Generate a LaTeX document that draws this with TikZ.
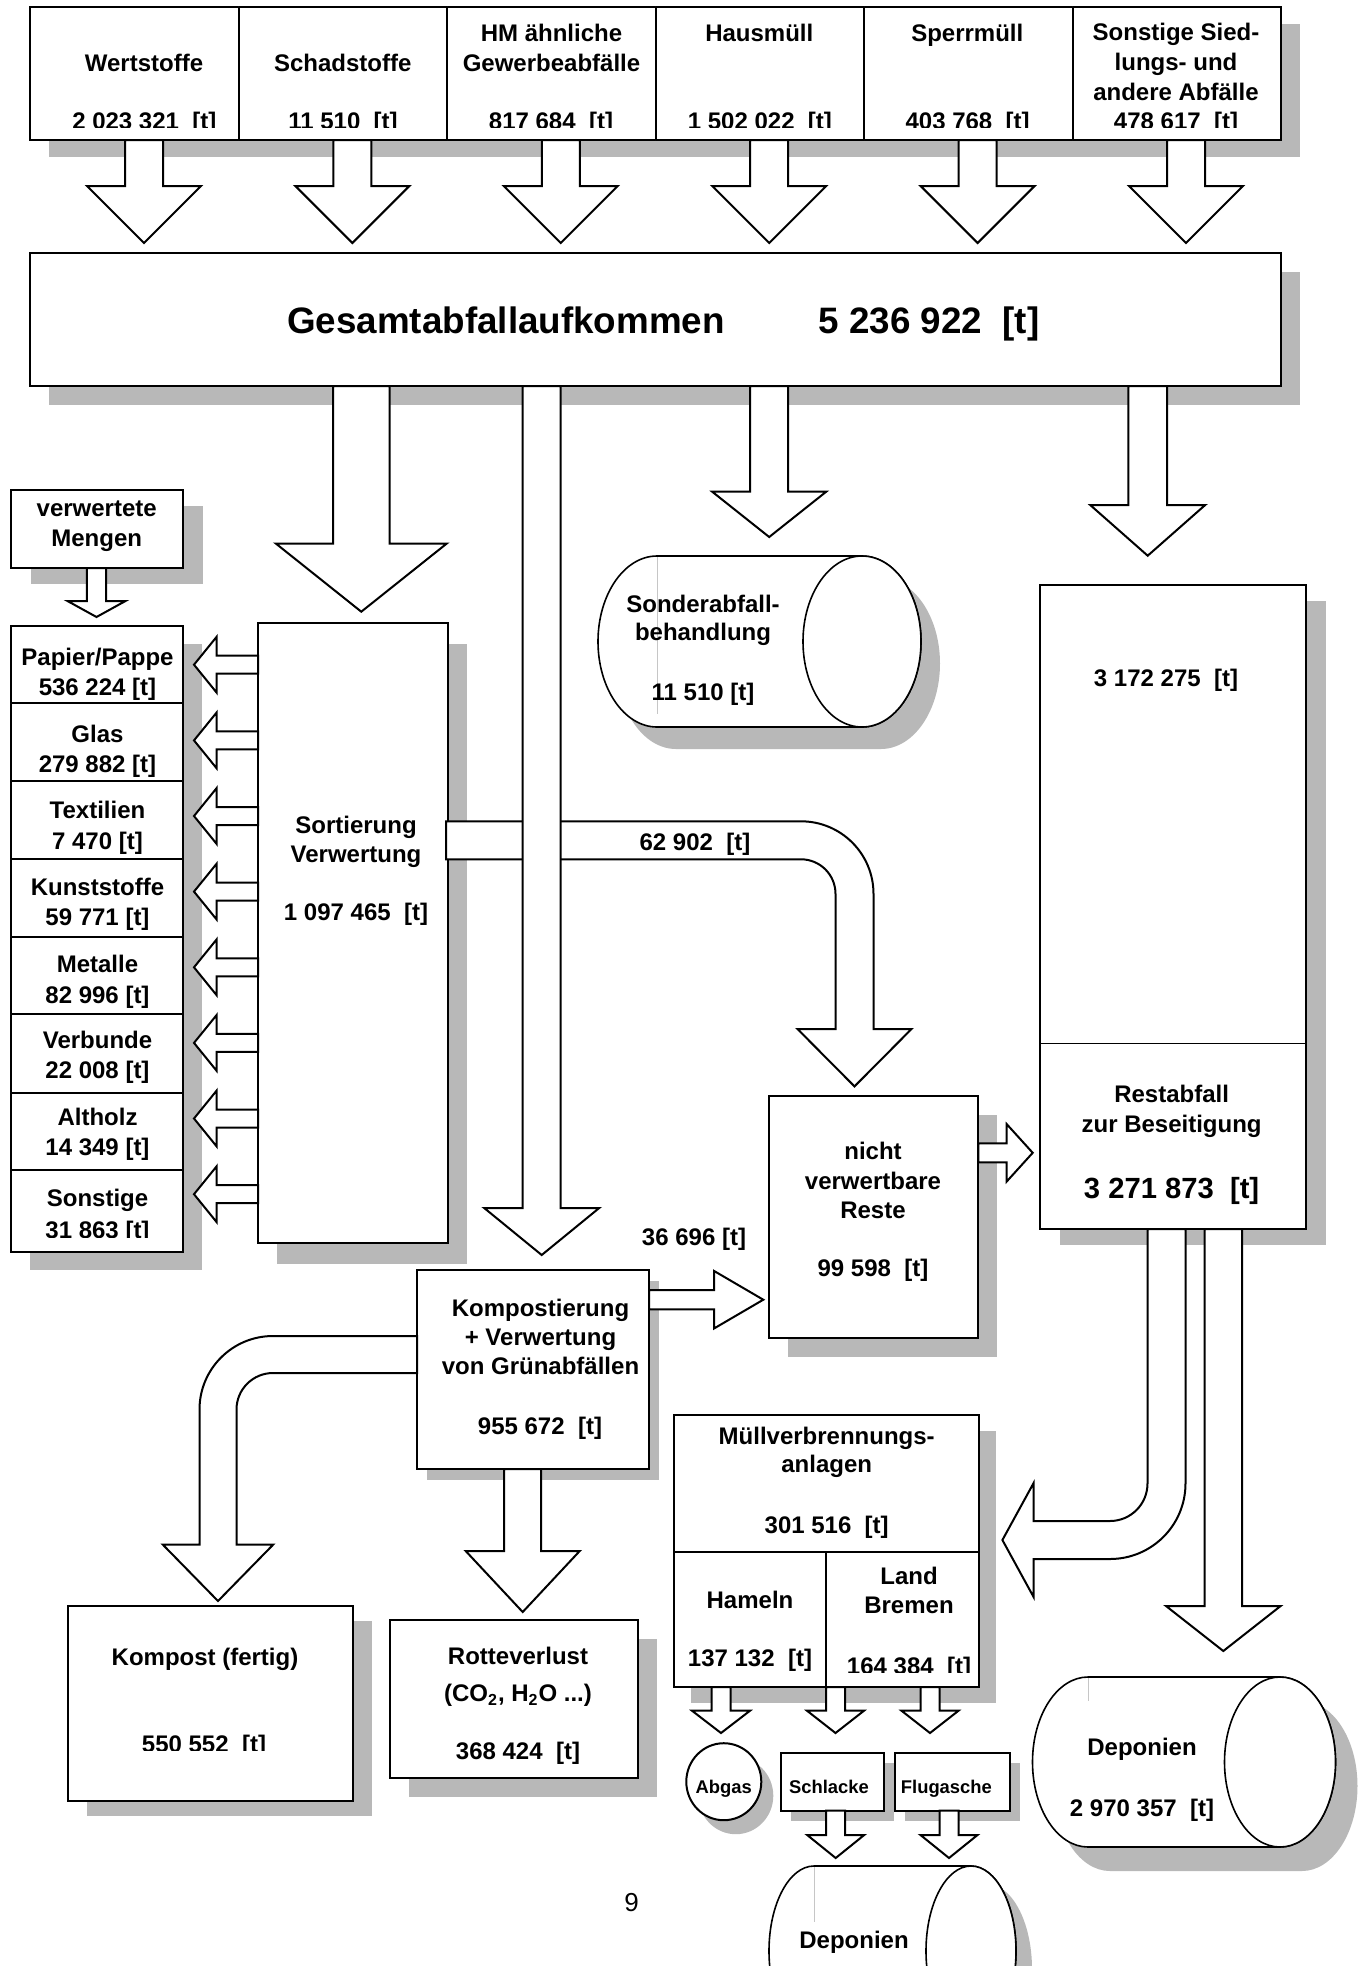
\documentclass[tikz,border=0pt]{standalone}
\usepackage{fontspec}
\setmainfont{Liberation Sans}
\definecolor{shd}{gray}{0.72}
\tikzset{
 blk/.style={draw=black, fill=white, line width=1pt, line join=miter},
 box/.style={draw=black, fill=white, line width=1pt},
 thinln/.style={draw=black, line width=0.6pt},
 cylst/.style={draw=black, fill=white, line width=0.8pt},
 shdw/.style={fill=shd, draw=none},
 artif/.style={draw=gray!45, line width=0.3pt},
 t/.style={anchor=base, inner sep=0pt, outer sep=0pt, font=\bfseries\fontsize{12}{14}\selectfont},
 ts/.style={t, font=\bfseries\fontsize{9.2}{11}\selectfont},
 tm/.style={t, font=\bfseries\fontsize{14.6}{17}\selectfont},
 tl/.style={t, font=\bfseries\fontsize{18.4}{22}\selectfont},
 pg/.style={anchor=base, inner sep=0pt, font=\fontsize{13}{15}\selectfont}
}
% down block arrow: cx, ytop, yheadtop, ytip, shaft halfwidth, head halfwidth
\newcommand\darr[6]{\draw[blk] (#1-#5,#2) -- (#1-#5,#3) -- (#1-#6,#3) -- (#1,#4) -- (#1+#6,#3) -- (#1+#5,#3) -- (#1+#5,#2) -- cycle;}
% horizontal block arrow: cy, xstart, xheadbase, xtip, shaft halfwidth, head halfwidth
\newcommand\harr[6]{\draw[blk] (#2,#1-#5) -- (#3,#1-#5) -- (#3,#1-#6) -- (#4,#1) -- (#3,#1+#6) -- (#3,#1+#5) -- (#2,#1+#5) -- cycle;}
% shadow rectangle: x1,y1,x2,y2,dx,dy
\newcommand\mkshadow[6]{\fill[shdw] (#1+#5,#2+#6) rectangle (#3+#5,#4+#6);}
% cylinder: xl, xr, yc, rx, ry, dx, dy
\newcommand\cyl[7]{%
 \fill[shdw] (#1+#6,#3-#5+#7) -- (#2+#6,#3-#5+#7) arc (-90:90:#4 and #5) -- (#1+#6,#3+#5+#7) arc (90:270:#4 and #5) -- cycle;
 \draw[cylst] (#1,#3-#5) -- (#2,#3-#5) arc (-90:90:#4 and #5) -- (#1,#3+#5) arc (90:270:#4 and #5) -- cycle;
 \draw[cylst] (#2,#3) ellipse (#4 and #5);}

\begin{document}
\begin{tikzpicture}[x=0.5pt,y=0.5pt,yscale=-1]
\useasboundingbox (0,0) rectangle (1359,1966);
\clip (0,0) rectangle (1359,1966);

% ---------- shadows ----------
\mkshadow{30}{6.5}{1281}{140}{19}{17}
\mkshadow{30}{253}{1281}{386}{19}{19}
\mkshadow{10.7}{490}{182.7}{568}{20}{16}
\mkshadow{10.7}{626.3}{182.7}{1252.4}{19}{18}
\mkshadow{258}{623}{448}{1243}{19}{21}
\mkshadow{1040}{585}{1305.7}{1229}{20}{16}
\mkshadow{769}{1096.3}{978.3}{1337.7}{19}{19}
\mkshadow{417}{1270}{649}{1469}{10}{11}
\mkshadow{68}{1606.4}{353.4}{1801}{19}{15}
\mkshadow{390}{1620}{637.5}{1778}{19}{19}
\mkshadow{674.3}{1414.8}{978.8}{1687}{17}{16}
\mkshadow{781}{1752.6}{884}{1810.5}{10}{10}
\mkshadow{895.4}{1752.6}{1010}{1810.5}{10}{10}
\fill[shdw] (735.8,1795.7) ellipse (37.5 and 38.5);

% ---------- boxes ----------
\draw[box] (30,6.5) rectangle (1281,140);
\foreach \xx in {238.5,447,655.5,864,1072.5} \draw[box] (\xx,6.5) -- (\xx,140);
\draw[box] (30,253) rectangle (1281,386);
\draw[box] (10.7,490) rectangle (182.7,568);
\draw[box] (10.7,626.3) rectangle (182.7,1252.4);
\foreach \yy in {703.2,780.6,859,936.5,1014.4,1092.8,1169.7} \draw[box] (10.7,\yy) -- (182.7,\yy);
\draw[box] (258,623) rectangle (448,1243);
\draw[box] (1040,585) rectangle (1305.7,1229);
\draw[thinln] (1040,1043.7) -- (1305.7,1043.7);
\draw[box] (769,1096.3) rectangle (978.3,1337.7);
\draw[box] (417,1270) rectangle (649,1469);
\draw[box] (68,1606.4) rectangle (353.4,1801);
\draw[box] (390,1620) rectangle (637.5,1778);
\draw[box] (674.3,1414.8) rectangle (978.8,1687);
\draw[box] (674.3,1552) -- (978.8,1552);
\draw[box] (826.3,1552) -- (826.3,1687);
\draw[box] (781,1752.6) rectangle (884,1810.5);
\draw[box] (895.4,1752.6) rectangle (1010,1810.5);
\draw[box] (723.8,1781.7) ellipse (37.5 and 38.5);

% ---------- cylinders ----------
\cyl{657}{862}{641.5}{59}{85.5}{19}{22}
\cyl{1088}{1280}{1762}{55.5}{85}{22}{24}
\cyl{814}{971}{1951}{45}{85}{16}{18}
\draw[artif] (657,557) -- (657,713.5);
\draw[artif] (1088,1678) -- (1088,1701);
\draw[artif] (813.8,1867) -- (813.8,1922);

% ---------- arrows ----------
\foreach \cx in {144,352.4,560.8,769.2,977.6,1186} {\darr{\cx}{140}{186}{243}{19}{57}}
\darr{361.3}{386}{543.5}{611.7}{28.25}{85.5}
\darr{769.2}{386}{491.7}{537}{19}{57}
\darr{1147.7}{386}{505}{555.7}{19.3}{57.5}
\darr{96.5}{568}{601}{617}{9.7}{29}
\foreach \cy in {664.7,740.4,816,891.6,967.3,1042.9,1118.5,1194.2} {\harr{\cy}{258}{216.7}{194}{9}{28}}
% 62 902 band
\draw[blk] (446,821.3) -- (801,821.3) arc (-90:0:72.5) -- (873.5,1029) -- (911.5,1029) -- (854.5,1086.4) -- (797.5,1029) -- (835.5,1029) -- (835.5,893.8) arc (0:-90:34.5) -- (446,859.3) -- cycle;
% long vertical arrow
\darr{541.7}{386}{1208}{1255}{19}{57.5}
\harr{1152.8}{978.3}{1006.7}{1032.7}{9.5}{28.7}
\harr{1299.7}{649}{714}{763.3}{9.7}{28.8}
% Kompostierung -> Kompost
\draw[blk] (417,1336) -- (273,1336) arc (-90:-180:73.5) -- (199.5,1544.6) -- (162.8,1544.6) -- (218,1601) -- (273.2,1544.6) -- (236.5,1544.6) -- (236.5,1409.5) arc (180:270:36.5) -- (417,1373) -- cycle;
\darr{522.7}{1469}{1551}{1612}{18.5}{57}
% Restabfall -> MVA
\draw[blk] (1147.5,1229) -- (1147.5,1483.5) arc (0:90:37.5) -- (1033.6,1521) -- (1033.6,1483) -- (1002.4,1540) -- (1033.6,1597) -- (1033.6,1559) -- (1110,1559) arc (90:0:75.5) -- (1185.5,1229) -- cycle;
\darr{1223.3}{1229}{1606}{1651}{18.7}{57.3}
% MVA outputs
\darr{721}{1687}{1710.7}{1733}{9.5}{29}
\darr{835.5}{1687}{1710.7}{1733}{9.5}{28.5}
\darr{930}{1687}{1710.7}{1733}{9.5}{28.5}
\darr{835.7}{1810.5}{1835}{1858}{9.5}{28.5}
\darr{949}{1810.5}{1835}{1858}{9.5}{28.5}

% ---------- texts ----------
\node[t] (w1) at (144,71) {Wertstoffe};
\node[t] (s1) at (342.8,71) {Schadstoffe};
\node[t] (h1) at (551.5,41.7) {HM ähnliche};
\node[t] (h2) at (551.5,71) {Gewerbeabfälle};
\node[t] (hm1) at (759.3,41.7) {Hausmüll};
\node[t] (sp1) at (967.3,41.7) {Sperrmüll};
\node[t] (so1) at (1176,40.5) {Sonstige Sied-};
\node[t] (so2) at (1176,70.5) {lungs- und};
\node[t] (so3) at (1176,100) {andere Abfälle};
\begin{scope}
\clip (30,95) rectangle (1281,127.7);
\node[t] (w2) at (144.3,129) {2 023 321~~[t]};
\node[t] (s2) at (343,129) {11 510~~[t]};
\node[t] (h3) at (551,129) {817 684~~[t]};
\node[t] (hm2) at (759.9,129) {1 502 022~~[t]};
\node[t] (sp2) at (967.6,129) {403 768~~[t]};
\node[t] (so4) at (1176,129.8) {478 617~~[t]};
\end{scope}
\node[tl] (g1) at (506,333) {Gesamtabfallaufkommen};
\node[tl] (g2) at (929,333) {5 236 922~~[t]};
\node[t] (v1) at (96.7,516.5) {verwertete};
\node[t] (v2) at (96.7,546) {Mengen};
\node[t] (l1a) at (97.5,665.5) {Papier/Pappe};
\node[t] (l1b) at (97.5,695) {536 224 [t]};
\node[t] (l2a) at (97.5,742.4) {Glas};
\node[t] (l2b) at (97.5,772.8) {279 882 [t]};
\node[t] (l3a) at (97.5,818.3) {Textilien};
\node[t] (l3b) at (97.5,849.6) {7 470 [t]};
\node[t] (l4a) at (97.5,895) {Kunststoffe};
\node[t] (l4b) at (97.5,925.5) {59 771 [t]};
\node[t] (l5a) at (97.5,972.5) {Metalle};
\node[t] (l5b) at (97.5,1003) {82 996 [t]};
\node[t] (l6a) at (97.5,1048.4) {Verbunde};
\node[t] (l6b) at (97.5,1078) {22 008 [t]};
\node[t] (l7a) at (97.5,1125.8) {Altholz};
\node[t] (l7b) at (97.5,1155.6) {14 349 [t]};
\node[t] (l8a) at (97.5,1206.9) {Sonstige};
\begin{scope}
\clip (10.7,1200) rectangle (182.7,1237.5);
\node[t] (l8b) at (97.5,1238.5) {31 863 [t]};
\end{scope}
\node[t] (so5) at (356,833) {Sortierung};
\node[t] (so6) at (356,862.5) {Verwertung};
\node[t] (so7) at (356,920) {1 097 465~~[t]};
\node[t] (sd1) at (703,612.5) {Sonderabfall-};
\node[t] (sd2) at (703,640) {behandlung};
\node[t] (sd3) at (703,700) {11 510 [t]};
\node[t] (r1) at (1166,686) {3 172 275~~[t]};
\node[t] (r2) at (1171.6,1102.4) {Restabfall};
\node[t] (r3) at (1171.6,1132.3) {zur Beseitigung};
\node[tm] (r4) at (1171.6,1198) {3 271 873~~[t]};
\node[t] (f1) at (695,850) {62 902~~[t]};
\node[t] (n1) at (873,1159.5) {nicht};
\node[t] (n2) at (873,1189.3) {verwertbare};
\node[t] (n3) at (873,1218.3) {Reste};
\node[t] (n4) at (873,1276.7) {99 598~~[t]};
\node[t] (f2) at (694,1245) {36 696 [t]};
\node[t] (k1) at (540.5,1316.4) {Kompostierung};
\node[t] (k2) at (540.5,1345.7) {+ Verwertung};
\node[t] (k3) at (540.5,1374.3) {von Grünabfällen};
\node[t] (k4) at (540,1434.3) {955 672~~[t]};
\node[t] (kf1) at (205,1665.4) {Kompost (fertig)};
\begin{scope}
\clip (68,1700) rectangle (353.4,1750);
\node[t] (kf2) at (204,1752) {550 552~~[t]};
\end{scope}
\node[t] (rv1) at (518,1664.6) {Rotteverlust};
\node[t] (rv2) at (518,1701.8) {(CO\textsubscript{2}, H\textsubscript{2}O ...)};
\node[t] (rv3) at (518,1759.3) {368 424~~[t]};
\node[t] (m1) at (826.7,1444.3) {Müllverbrennungs-};
\node[t] (m2) at (826.7,1472.3) {anlagen};
\node[t] (m3) at (826.7,1533.2) {301 516~~[t]};
\node[t] (ha1) at (750,1608) {Hameln};
\node[t] (ha2) at (750,1666.6) {137 132~~[t]};
\node[t] (lb1) at (909,1584.8) {Land};
\node[t] (lb2) at (909,1613.6) {Bremen};
\begin{scope}
\clip (826.3,1640) rectangle (978.8,1672.5);
\node[t] (lb3) at (909,1674.5) {164 384~~[t]};
\end{scope}
\node[ts] (ab) at (723.8,1793) {Abgas};
\node[ts] (sl) at (829,1793) {Schlacke};
\node[ts] (fl) at (946.4,1793) {Flugasche};
\node[t] (d1) at (1142,1755.6) {Deponien};
\node[t] (d2) at (1142,1816) {2 970 357~~[t]};
\node[t] (d3) at (854,1948.8) {Deponien};
\node[pg] (pnum) at (631.6,1911.5) {9};
\end{tikzpicture}
\end{document}
